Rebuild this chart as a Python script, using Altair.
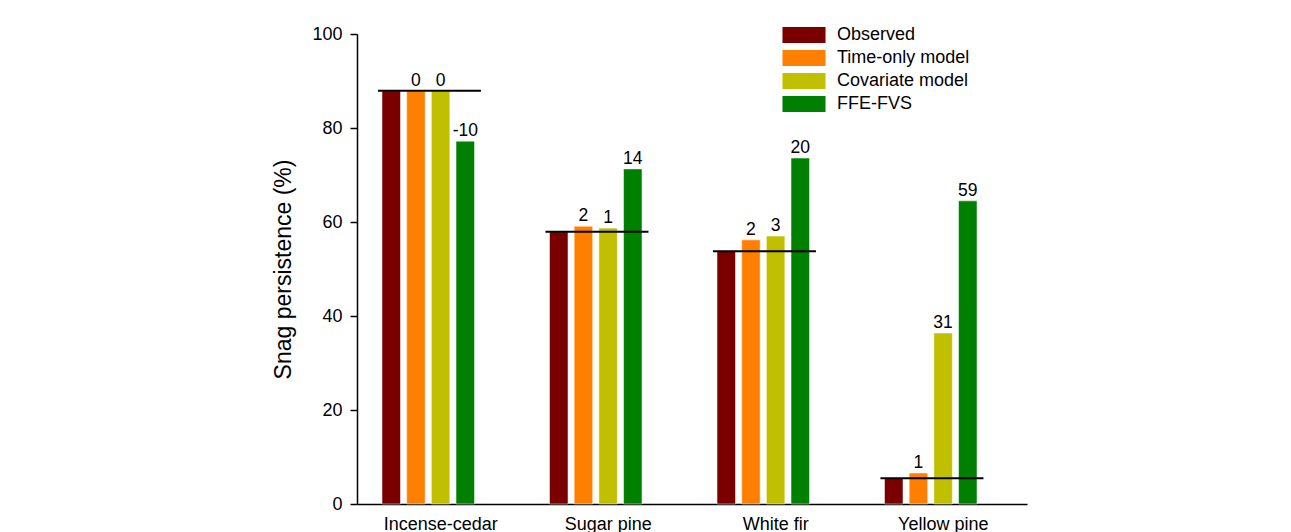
import altair as alt
import pandas as pd

species = ["Incense-cedar", "Sugar pine", "White fir", "Yellow pine"]
models = ["Observed", "Time-only model", "Covariate model", "FFE-FVS"]
colors = ["#7a0000", "#ff8000", "#c0c000", "#008000"]

observed = [87.9, 57.9, 53.8, 5.5]
time_only = [87.9, 59.1, 56.2, 6.6]
covariate = [87.9, 58.7, 57.0, 36.4]
ffe_fvs = [77.2, 71.3, 73.6, 64.5]

time_only_diff = ["0", "2", "2", "1"]
covariate_diff = ["0", "1", "3", "31"]
ffe_fvs_diff = ["-10", "14", "20", "59"]

rows = []
for i, sp in enumerate(species):
    rows.append({"species": sp, "model": models[0], "value": observed[i], "label": ""})
    rows.append({"species": sp, "model": models[1], "value": time_only[i], "label": time_only_diff[i]})
    rows.append({"species": sp, "model": models[2], "value": covariate[i], "label": covariate_diff[i]})
    rows.append({"species": sp, "model": models[3], "value": ffe_fvs[i], "label": ffe_fvs_diff[i]})
df = pd.DataFrame(rows)
obs_df = pd.DataFrame({"species": species, "observed": observed})

FONT = "Liberation Sans"

# two empty slots after the four bars leave the gap to the next group
offset_domain = models + ["_gap1", "_gap2"]

x_enc = alt.X(
    "species:N",
    sort=species,
    scale=alt.Scale(domain=species, paddingInner=0, paddingOuter=0),
    axis=alt.Axis(title=None, labelAngle=0, ticks=False, labelPadding=11,
                  labelFontSize=18, labelColor="#000", domainColor="#000",
                  domainWidth=1.5, labelFont=FONT),
)
xoff_enc = alt.XOffset(
    "model:N",
    sort=offset_domain,
    scale=alt.Scale(domain=offset_domain, paddingInner=0.25, paddingOuter=0.52, align=0.975),
)
y_scale = alt.Scale(domain=[0, 100], nice=False)

bars = alt.Chart(df).mark_bar(stroke="white", strokeWidth=0.5).encode(
    x=x_enc,
    xOffset=xoff_enc,
    y=alt.Y("value:Q", scale=y_scale,
            axis=alt.Axis(title="Snag persistence (%)", values=[0, 20, 40, 60, 80, 100],
                          grid=False, tickSize=7, tickColor="#000", tickWidth=1.5,
                          domainColor="#000", domainWidth=1.5,
                          labelFontSize=18, labelColor="#000", labelPadding=8, labelFont=FONT,
                          titleFontSize=23, titleFontWeight="normal", titleColor="#000",
                          titleFont=FONT, titlePadding=16)),
    color=alt.Color("model:N", sort=models,
                    scale=alt.Scale(domain=models, range=colors),
                    legend=alt.Legend(title=None, orient="none", legendX=438, legendY=-8,
                                      symbolType="M-2.69,-1H2.69V1H-2.69Z", symbolSize=256,
                                      symbolStrokeWidth=0, symbolOpacity=1,
                                      labelOffset=24, labelFontSize=18, labelFont=FONT,
                                      labelColor="#000", rowPadding=5)),
)

labels = alt.Chart(df).mark_text(baseline="alphabetic", dy=-5, fontSize=17.5, font=FONT,
                                 color="#000").encode(
    x=x_enc,
    xOffset=xoff_enc,
    y=alt.Y("value:Q", scale=y_scale),
    text="label:N",
)

rules = alt.Chart(obs_df).mark_rule(color="#000", strokeWidth=2).encode(
    x=alt.X("species:N", sort=species, bandPosition=0.125),
    x2=alt.X2("species", bandPosition=0.74),
    y=alt.Y("observed:Q", scale=y_scale),
)

chart = alt.layer(bars, rules, labels).properties(
    width=670, height=470,
    padding={"left": 264, "top": 17, "right": 5, "bottom": 5},
).configure_view(stroke=None)

chart.save("out.html", embed_options={"renderer": "svg", "actions": False})
